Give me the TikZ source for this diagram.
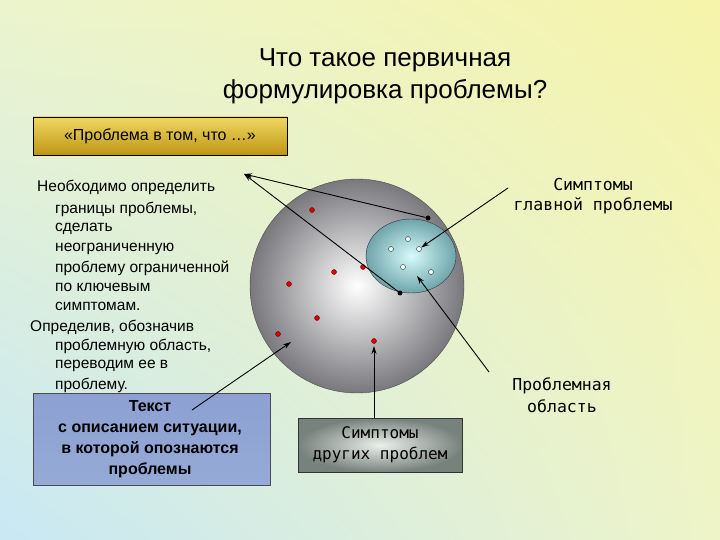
\documentclass[tikz,border=0pt]{standalone}
\usepackage{fontspec}
\setmainfont{Liberation Sans}
\newfontfamily\monof{DejaVu Sans Mono}
\usetikzlibrary{arrows.meta,shapes.geometric,shadings}
\definecolor{bgul}{RGB}{236,244,205}
\definecolor{bgur}{RGB}{246,244,170}
\definecolor{bgll}{RGB}{200,232,245}
\definecolor{bglr}{RGB}{238,244,200}
\definecolor{goldt}{RGB}{240,215,100}
\definecolor{goldb}{RGB}{190,150,20}
\definecolor{ballout}{RGB}{120,120,125}
\definecolor{elin}{RGB}{215,250,250}
\definecolor{elout}{RGB}{110,165,170}
\definecolor{bluet}{RGB}{140,160,210}
\definecolor{blueb}{RGB}{150,170,215}
\definecolor{grin}{RGB}{235,240,235}
\definecolor{grout}{RGB}{120,130,125}
\begin{document}
\begin{tikzpicture}[x=1pt,y=-1pt,
  ln/.style={font=\fontsize{15.5}{17}\selectfont,anchor=west,inner sep=0},
  arr/.style={-{Stealth[length=8pt,width=5pt]},line width=0.9pt},
  rd/.style={circle,fill=red!85!black,draw=red!40!black,inner sep=0,minimum size=5pt},
  od/.style={circle,fill=white,draw=teal!40!black,inner sep=0,minimum size=5pt},
  bd/.style={circle,fill=black,inner sep=0,minimum size=5pt}]
\useasboundingbox (0,0) rectangle (720,540);
\shade[upper left=bgul,upper right=bgur,lower left=bgll,lower right=bglr] (0,0) rectangle (720,540);
\node (t1) at (385,60) {\fontsize{26}{28}\selectfont Что такое первичная};
\node (t2) at (385,92) {\fontsize{26}{28}\selectfont формулировка проблемы?};
\shade[top color=goldt,bottom color=goldb,draw=black] (33,117) rectangle (287,155);
\node (pb) at (160,136) {\fontsize{16}{18}\selectfont «Проблема в том, что …»};
\node[ln] (l1) at (37,187) {Необходимо определить};
\node[ln] (l2) at (55,209) {границы проблемы,};
\node[ln] (l3) at (55,229) {сделать};
\node[ln] (l4) at (55,249) {неограниченную};
\node[ln] (l5) at (55,268) {проблему ограниченной};
\node[ln] (l6) at (55,287) {по ключевым};
\node[ln] (l7) at (55,306) {симптомам.};
\node[ln] (l8) at (30,327) {Определив, обозначив};
\node[ln] (l9) at (55,346) {проблемную область,};
\node[ln] (l10) at (55,366) {переводим ее в};
\node[ln] (l11) at (55,385) {проблему.};
\shade[inner color=white,outer color=ballout,draw=black!70] (357,286) circle (107);
\node[ellipse,minimum width=90,minimum height=74,draw=black!80,inner color=elin,outer color=elout] (el) at (411,256) {};
\foreach \n/\x/\y in {r1/312/210,r2/334/272,r3/289/284,r4/317/318,r5/278/334,r6/374/341,r7/363/267}
  \node[rd] (\n) at (\x,\y) {};
\foreach \n/\x/\y in {o1/408/239,o2/391/249,o3/419/249,o4/403/267,o5/431/272}
  \node[od] (\n) at (\x,\y) {};
\node[bd] (b1) at (428,218) {};
\node[bd] (b2) at (400,293) {};
\coordinate (tip) at (244,174);
\draw[arr] (b1) -- (tip);
\draw[arr] (b2) -- (tip);
\node[align=center,font=\monof\fontsize{16.5}{20}\selectfont] (sg) at (593,196) {Симптомы\\главной проблемы};
\node[align=center,font=\monof\fontsize{16.5}{22}\selectfont] (pa) at (562,395) {Проблемная\\область};
\shade[top color=bluet,bottom color=blueb,draw=black!70] (33,393) rectangle (270,485);
\node[align=center,font=\bfseries\fontsize{16}{21}\selectfont] (tx) at (150,439) {Текст\\с описанием ситуации,\\в которой опознаются\\проблемы};
\shade[inner color=grin,outer color=grout,draw=black!80] (298,418) rectangle (462,472);
\node[align=center,font=\monof\fontsize{16}{21}\selectfont] (so) at (380,445) {Симптомы\\других проблем};
\coordinate (sotop) at (374,418);
\coordinate (sgs) at (508,188);
\coordinate (pas) at (489,372);
\coordinate (txs) at (192,410);
\draw[arr] (sgs) -- (o3);
\draw[arr] (pas) -- (417,276);
\draw[arr] (txs) -- (291,342);
\draw[arr] (sotop) -- (374,346);
\end{tikzpicture}
\end{document}
